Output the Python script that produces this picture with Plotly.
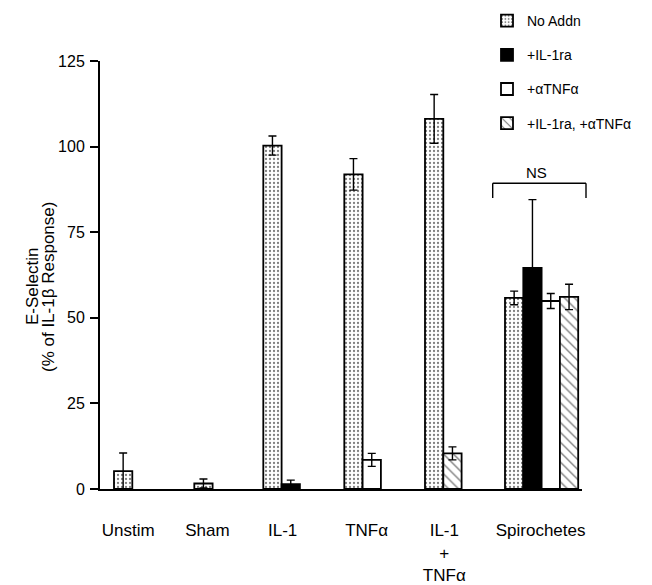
import plotly.graph_objects as go

# ---------------- data ----------------
categories = ["Unstim", "Sham", "IL-1", "TNFα", "IL-1<br>+<br>TNFα", "Spirochetes"]
series_names = ["No Addn", "+IL-1ra", "+αTNFα", "+IL-1ra, +αTNFα"]

no_addn = [5.2, 1.6, 100.3, 91.9, 108.1, 55.8]
no_addn_err = [5.3, 1.3, 2.8, 4.6, 7.1, 2.0]

il1ra = [None, None, 1.4, None, None, 64.6]
il1ra_err = [None, None, 1.2, None, None, 19.9]

atnf = [None, None, None, 8.5, None, 54.9]
atnf_err = [None, None, None, 1.9, None, 2.2]

both = [None, None, None, None, 10.4, 56.1]
both_err = [None, None, None, None, 1.9, 3.7]

y_ticks = [0, 25, 50, 75, 100, 125]
ns_label = "NS"

# ---------------- layout constants ----------------
W, H = 652, 585
ML, MR, MT, MB = 100, 70, 61, 96
X_MAX = W - ML - MR            # x axis in pixel-like units
Y_MAX = 125
BAR_W = 18.3
GROUP_LEFT = [14, 94.3, 163.3, 244.3, 325, 405]
LABEL_NUDGE = [5, 4, 1, 4, 1, -1]
FONT = "Liberation Sans, Arial, sans-serif"

values = [no_addn, il1ra, atnf, both]
errors = [no_addn_err, il1ra_err, atnf_err, both_err]

# slot of each bar inside its group (order of bars that exist in the group)
slot = [[None] * len(categories) for _ in values]
n_in_group = []
for c in range(len(categories)):
    k = 0
    for s in range(len(values)):
        if values[s][c] is not None:
            slot[s][c] = k
            k += 1
    n_in_group.append(k)

OUT = dict(color="black", width=1.8)
styles = [
    dict(color="white", line=OUT,
         pattern=dict(shape=".", fgcolor="black", bgcolor="white", size=4, solidity=0.25)),
    dict(color="black", line=OUT),
    dict(color="white", line=OUT),
    dict(color="white", line=OUT,
         pattern=dict(shape="\\", fgcolor="black", bgcolor="white", size=7, solidity=0.2)),
]

fig = go.Figure()
for s, name in enumerate(series_names):
    xs, ys, es = [], [], []
    for c in range(len(categories)):
        if values[s][c] is None:
            continue
        xs.append(GROUP_LEFT[c] + (slot[s][c] + 0.5) * BAR_W)
        ys.append(values[s][c])
        es.append(errors[s][c])
    fig.add_trace(go.Bar(
        x=xs, y=ys, name=name, width=BAR_W, marker=styles[s],
        legendgroup=name,
        error_y=dict(type="data", array=es, visible=True, color="black",
                     thickness=1.4, width=4),
    ))

tick_pos = [GROUP_LEFT[c] + n_in_group[c] * BAR_W / 2 + LABEL_NUDGE[c]
            for c in range(len(categories))]

# NS bracket over the spirochete group
sp = len(categories) - 1
br_left = GROUP_LEFT[sp] - 12.3
br_right = GROUP_LEFT[sp] + n_in_group[sp] * BAR_W + 7.8
br_top, br_bot = 89.3, 85.0
px = lambda v: v / X_MAX
py = lambda v: v / Y_MAX
BR = dict(color="black", width=1.4)
shapes = [
    dict(type="line", xref="paper", yref="paper", x0=px(br_left), x1=px(br_right),
         y0=py(br_top), y1=py(br_top), line=BR),
    dict(type="line", xref="paper", yref="paper", x0=px(br_left), x1=px(br_left),
         y0=py(br_top), y1=py(br_bot), line=BR),
    dict(type="line", xref="paper", yref="paper", x0=px(br_right), x1=px(br_right),
         y0=py(br_top), y1=py(br_bot), line=BR),
]

PH = H - MT - MB
annotations = [
    dict(text=ns_label, xref="paper", yref="paper", x=px((br_left + br_right) / 2 - 3),
         y=py(br_top + 0.2), xanchor="center", yanchor="bottom", showarrow=False,
         font=dict(family=FONT, size=15, color="black")),
    dict(text="E-Selectin", xref="paper", yref="paper", x=(32 - ML) / X_MAX,
         y=(H - MB - 287) / PH, textangle=-90, showarrow=False,
         xanchor="center", yanchor="middle",
         font=dict(family=FONT, size=17, color="black")),
    dict(text="(% of IL-1β Response)", xref="paper", yref="paper", x=(48 - ML) / X_MAX,
         y=(H - MB - 287) / PH, textangle=-90, showarrow=False,
         xanchor="center", yanchor="middle",
         font=dict(family=FONT, size=17, color="black")),
]

fig.update_layout(
    width=W, height=H,
    margin=dict(l=ML, r=MR, t=MT, b=MB, pad=0, autoexpand=False),
    paper_bgcolor="white", plot_bgcolor="white",
    barmode="overlay",
    showlegend=True,
    legend=dict(xref="container", yref="container", x=487 / W, y=1 - 5 / H,
                xanchor="left", yanchor="top", traceorder="grouped",
                tracegroupgap=13, bgcolor="rgba(0,0,0,0)",
                font=dict(family=FONT, size=14, color="black")),
    font=dict(family=FONT, color="black"),
    shapes=shapes, annotations=annotations,
    xaxis=dict(range=[0, X_MAX], showline=True, linecolor="black", linewidth=2,
               showgrid=False, zeroline=False, tickmode="array", tickvals=tick_pos,
               ticktext=categories, ticks="outside", ticklen=25, automargin=False,
               tickcolor="rgba(0,0,0,0)", tickfont=dict(family=FONT, size=17, color="black")),
    yaxis=dict(range=[0, Y_MAX], showline=True, linecolor="black", linewidth=2,
               showgrid=False, zeroline=False, tickmode="array", tickvals=y_ticks,
               ticks="outside", ticklen=8, tickwidth=2, tickcolor="black",
               ticklabelstandoff=2, automargin=False,
               tickfont=dict(family=FONT, size=16, color="black")),
)

fig.write_html("out.html")
